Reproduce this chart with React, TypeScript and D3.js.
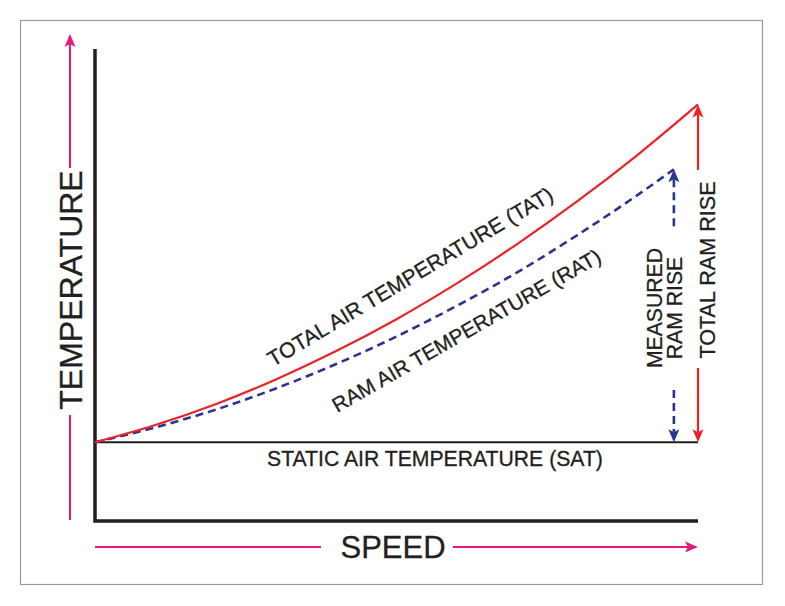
import React, { useEffect, useRef } from 'react';
import * as d3 from 'd3';

// Speed in percent of full scale, temperature in arbitrary degrees above SAT
const speeds = [0, 10, 20, 30, 40, 50, 60, 70, 80, 90, 100];
const tatValues = [0, 4.4, 9.7, 16.0, 23.2, 31.3, 40.4, 50.4, 61.3, 73.1, 85.9];
const ratSpeeds = [0, 10, 20, 30, 40, 50, 60, 70, 80, 90, 96];
const ratValues = [0, 3.8, 8.3, 13.7, 19.9, 26.9, 34.7, 43.2, 52.7, 62.9, 69.4];
const satValue = 0;

const labels = {
  yAxis: 'TEMPERATURE',
  xAxis: 'SPEED',
  sat: 'STATIC AIR TEMPERATURE (SAT)',
  tat: 'TOTAL AIR TEMPERATURE (TAT)',
  rat: 'RAM AIR TEMPERATURE (RAT)',
  measured: ['MEASURED', 'RAM RISE'],
  total: 'TOTAL RAM RISE',
};

const PINK = '#e6197c';
const RED = '#ec2227';
const BLUE = '#2b3390';
const INK = '#231f20';
const FONT = '"Liberation Sans", Arial, sans-serif';

const App: React.FC = () => {
  const svgRef = useRef<SVGSVGElement | null>(null);

  useEffect(() => {
    if (!svgRef.current) return;
    const svg = d3.select(svgRef.current);
    svg.selectAll('*').remove();

    const width = 785;
    const height = 606;

    // plot area
    const x = d3.scaleLinear().domain([0, 100]).range([95, 698]);
    const y = d3.scaleLinear().domain([-20, 100]).range([521, 49]);

    svg.append('rect')
      .attr('width', width).attr('height', height).attr('fill', '#fff');

    // outer frame
    svg.append('rect')
      .attr('x', 20.5).attr('y', 20.5)
      .attr('width', 742).attr('height', 564)
      .attr('fill', 'none').attr('stroke', '#9a9a9a').attr('stroke-width', 1.2);

    // arrowhead pointing along (dx, dy), tip at (tx, ty)
    const arrowHead = (tx: number, ty: number, dx: number, dy: number, color: string, len = 13, half = 5.5) => {
      const ang = Math.atan2(dy, dx) * 180 / Math.PI;
      svg.append('path')
        .attr('d', `M0,0 L${-len},${-half} L${-len + 3},0 L${-len},${half} Z`)
        .attr('transform', `translate(${tx},${ty}) rotate(${ang})`)
        .attr('fill', color);
    };

    const vline = (xx: number, y1: number, y2: number, color: string, w: number, dash?: string) => {
      const l = svg.append('line')
        .attr('x1', xx).attr('x2', xx).attr('y1', y1).attr('y2', y2)
        .attr('stroke', color).attr('stroke-width', w);
      if (dash) l.attr('stroke-dasharray', dash);
    };

    const label = (transform: string, text: string, size: number, anchor = 'middle') =>
      svg.append('text')
        .attr('transform', transform)
        .attr('text-anchor', anchor)
        .attr('font-family', FONT).attr('font-size', size)
        .attr('fill', INK)
        .attr('stroke', INK).attr('stroke-width', 0.3)
        .text(text);

    // Axes
    svg.append('path')
      .attr('d', `M${x(0)},${y(100)} L${x(0)},${y(-20)} L${x(100)},${y(-20)}`)
      .attr('fill', 'none').attr('stroke', INK).attr('stroke-width', 3.5)
      .attr('stroke-linejoin', 'miter');

    // Temperature arrow (left)
    const axX = 70;
    vline(axX, y(-20) - 1, 415, PINK, 2);
    vline(axX, 168, 44, PINK, 2);
    arrowHead(axX, 34, 0, -1, PINK);
    label(`translate(${axX + 11.5},290) rotate(-90)`, labels.yAxis, 32);

    // Speed arrow (bottom)
    const axY = 547;
    svg.append('line')
      .attr('x1', x(0)).attr('x2', 321).attr('y1', axY).attr('y2', axY)
      .attr('stroke', PINK).attr('stroke-width', 2);
    svg.append('line')
      .attr('x1', 453).attr('x2', x(100) - 8).attr('y1', axY).attr('y2', axY)
      .attr('stroke', PINK).attr('stroke-width', 2);
    arrowHead(x(100), axY, 1, 0, PINK);
    label('translate(393,558)', labels.xAxis, 31);

    // SAT line
    svg.append('line')
      .attr('x1', x(0)).attr('x2', x(100)).attr('y1', y(satValue)).attr('y2', y(satValue))
      .attr('stroke', INK).attr('stroke-width', 2);
    label(`translate(267,${y(satValue) + 24})`, labels.sat, 21.2, 'start');

    const line = d3.line<[number, number]>()
      .x(d => x(d[0]))
      .y(d => y(d[1]))
      .curve(d3.curveMonotoneX);

    // RAT (dashed)
    svg.append('path')
      .attr('d', line(ratSpeeds.map((s, i) => [s, ratValues[i]] as [number, number])) || '')
      .attr('fill', 'none').attr('stroke', BLUE).attr('stroke-width', 2.6)
      .attr('stroke-dasharray', '8,5');

    // TAT
    svg.append('path')
      .attr('d', line(speeds.map((s, i) => [s, tatValues[i]] as [number, number])) || '')
      .attr('fill', 'none').attr('stroke', RED).attr('stroke-width', 2.2);

    // curve labels
    label('translate(414,283) rotate(-30.8)', labels.tat, 21.3);
    label('translate(470,337) rotate(-29.8)', labels.rat, 20.8);

    // Measured ram rise (RAT - SAT)
    const mX = x(ratSpeeds[ratSpeeds.length - 1]);
    const ratTop = y(ratValues[ratValues.length - 1]);
    vline(mX, ratTop + 10, 230, BLUE, 2.6, '8,5');
    vline(mX, 390, y(satValue) - 10, BLUE, 2.6, '8,5');
    arrowHead(mX, ratTop, 0, -1, BLUE);
    arrowHead(mX, y(satValue), 0, 1, BLUE);
    label('translate(662,308) rotate(-90)', labels.measured[0], 21.2);
    label('translate(682,308) rotate(-90)', labels.measured[1], 21.2);

    // Total ram rise (TAT - SAT)
    const tX = x(speeds[speeds.length - 1]);
    const tatTop = y(tatValues[tatValues.length - 1]);
    vline(tX, tatTop + 10, 170, RED, 2.2);
    vline(tX, 368, y(satValue) - 10, RED, 2.2);
    arrowHead(tX, tatTop, 0, -1, RED);
    arrowHead(tX, y(satValue), 0, 1, RED);
    label('translate(715,270) rotate(-90)', labels.total, 21.6);
  }, []);

  return (
    <svg
      ref={svgRef}
      width={785}
      height={606}
      style={{ position: 'absolute', left: 0, top: 0, display: 'block' }}
    />
  );
};

export default App;
